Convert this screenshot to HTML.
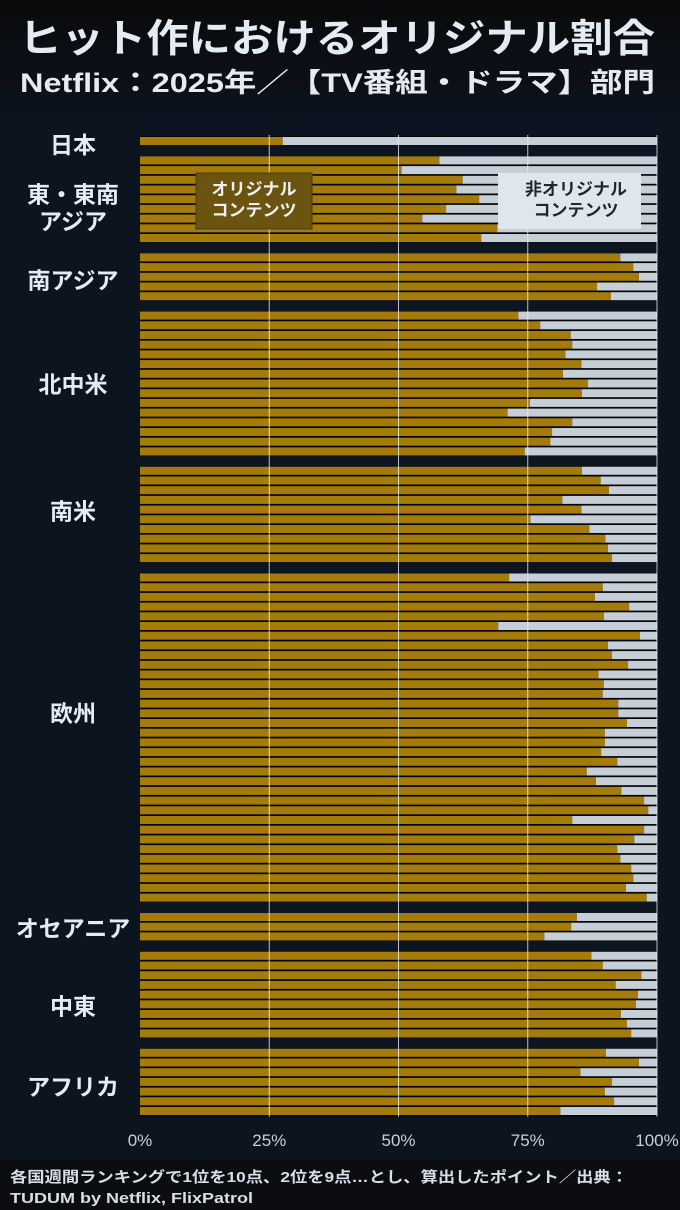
<!DOCTYPE html>
<html><head><meta charset="utf-8">
<style>
html,body{margin:0;padding:0;background:#0a0a0b;}
body{width:680px;height:1210px;overflow:hidden;position:relative;font-family:"Liberation Sans","Noto Sans CJK JP",sans-serif;}
svg{position:absolute;left:0;top:0;}
</style></head>
<body>
<svg id="chart" width="680" height="1210" xmlns="http://www.w3.org/2000/svg">
<defs><linearGradient id="bg" x1="0" y1="0" x2="0" y2="1"><stop offset="0" stop-color="#0a0a0b"/><stop offset="1" stop-color="#0c1420"/></linearGradient></defs>
<rect x="0" y="0" width="680" height="130" fill="url(#bg)"/>
<rect x="0" y="130" width="680" height="1030" fill="#0c1420"/>
<rect x="0" y="1160" width="680" height="50" fill="#0b0d11"/>
<text x="19" y="52" textLength="636" lengthAdjust="spacingAndGlyphs" font-size="39" font-weight="bold" fill="#e4ebf3" font-family="Liberation Sans, Noto Sans CJK JP, sans-serif">ヒット作におけるオリジナル割合</text>
<text x="20" y="92" textLength="635" lengthAdjust="spacingAndGlyphs" font-size="27" font-weight="bold" fill="#e4ebf3" font-family="Liberation Sans, Noto Sans CJK JP, sans-serif">Netflix：2025年／【TV番組・ドラマ】部門</text>
<g id="plot"></g>
<g id="overlay"></g>
<text x="10" y="1182" textLength="618" lengthAdjust="spacingAndGlyphs" font-size="15" font-weight="bold" fill="#d8dee6" font-family="Liberation Sans, Noto Sans CJK JP, sans-serif">各国週間ランキングで1位を10点、2位を9点…とし、算出したポイント／出典：</text>
<text x="10" y="1203" textLength="243" lengthAdjust="spacingAndGlyphs" font-size="15" font-weight="bold" fill="#d8dee6" font-family="Liberation Sans, Noto Sans CJK JP, sans-serif">TUDUM by Netflix, FlixPatrol</text>
</svg>
<script>
const regions = ["日本","東・東南アジア","南アジア","北中米","南米","欧州","オセアニア","中東","アフリカ"];
const japanVals = [27.6];
const eastAsiaVals = [57.9,50.6,62.4,61.2,65.6,59.2,54.6,69.1,66.0];
const southAsiaVals = [92.9,95.4,96.5,88.4,91.1];
const northAmericaVals = [73.2,77.4,83.3,83.6,82.3,85.4,81.8,86.6,85.5,75.4,71.1,83.6,79.7,79.4,74.4];
const southAmericaVals = [85.5,89.1,90.7,81.7,85.4,75.5,86.9,90.0,90.5,91.3];
const europeVals = [71.4,89.5,88.0,94.6,89.7,69.3,96.7,90.5,91.3,94.4,88.7,89.7,89.5,92.5,92.5,94.2,89.9,89.9,89.2,92.3,86.4,88.2,93.1,97.5,98.3,83.6,97.5,95.6,92.3,92.9,95.0,95.4,94.0,98.0];
const oceaniaVals = [84.5,83.4,78.2];
const middleEastVals = [87.3,89.5,97.0,92.0,96.3,95.9,93.0,94.2,95.0];
const africaVals = [90.1,96.5,85.2,91.3,89.9,91.7,81.3];
const tickLabels = ["0%","25%","50%","75%","100%"];
const tickValues = [0,25,50,75,100];

const groups=[japanVals,eastAsiaVals,southAsiaVals,northAmericaVals,southAmericaVals,europeVals,oceaniaVals,middleEastVals,africaVals];
const NS="http://www.w3.org/2000/svg";
const X0=140,X1=657,Y0=137,P=9.7,BH=8;
const xs=v=>X0+(X1-X0)*v/100;
const plot=document.getElementById('plot'), ov=document.getElementById('overlay');
function mk(tag,attrs,parent){const e=document.createElementNS(NS,tag);for(const k in attrs)e.setAttribute(k,attrs[k]);parent.appendChild(e);return e;}
let slot=0;
const totalSlots=groups.reduce((a,g)=>a+g.length,0)+groups.length-1;
const bgR=mk('rect',{x:X0,y:Y0-1,width:X1-X0,height:totalSlots*P+1,fill:'#050608'},plot);


const labelLines=[["日本"],["東・東南","アジア"],["南アジア"],["北中米"],["南米"],["欧州"],["オセアニア"],["中東"],["アフリカ"]];
const labelShift=[3,8,3,0,-4,-25,1,11,4];
groups.forEach((g,gi)=>{
  if(gi>0){const s=mk('rect',{x:X0,y:Y0+slot*P-1.5,width:X1-X0,height:P+2,fill:'#0d1520'},plot);
    
    
    slot++;}
  const start=slot;
  g.forEach(v=>{
    const y=Y0+slot*P;
    const o=mk('rect',{x:X0,y:y,width:xs(v)-X0,height:BH,fill:'#a57c0c'},plot);
    
    
    const n=mk('rect',{x:xs(v),y:y,width:X1-xs(v),height:BH,fill:'#c6ced8'},plot);
    
    
    slot++;
  });
  const cy=Y0+(start+slot)/2*P+labelShift[gi];
  const lines=labelLines[gi];
  lines.forEach((ln,li)=>{
    const t=mk('text',{x:73,y:cy+8+(li-(lines.length-1)/2)*27,'text-anchor':'middle','font-size':23,'font-weight':'bold',fill:'#e4ebf3'},ov);
    t.textContent=ln;
    
    
  });
});
const yEnd=Y0+totalSlots*P;
tickValues.forEach((tv,i)=>{
  if(tv>0){const l=mk('line',{x1:xs(tv),x2:xs(tv),y1:Y0-2,y2:yEnd,stroke:'#e8edf3','stroke-width':1,opacity:0.8},ov);
    
    }
  const t=mk('text',{x:xs(tv),y:1146,'text-anchor':'middle','font-size':17,fill:'#c9d0d8'},ov);
  t.textContent=tickLabels[i];
  
  
});
const lg1=mk('rect',{x:196,y:173,width:116,height:56,fill:'#6b5410',stroke:'#4a3a0a'},ov);


[["オリジナル",195],["コンテンツ",216]].forEach(a=>{const t=mk('text',{x:254,y:a[1],'text-anchor':'middle','font-size':17,'font-weight':'bold',fill:'#eef2f6'},ov);t.textContent=a[0];
 
 });
const lg2=mk('rect',{x:498,y:173,width:143,height:56,fill:'#dfe6ee'},ov);


[["非オリジナル",195],["コンテンツ",216]].forEach(a=>{const t=mk('text',{x:576,y:a[1],'text-anchor':'middle','font-size':17,'font-weight':'bold',fill:'#1e2630'},ov);t.textContent=a[0];
 
 });
</script>
</body></html>
